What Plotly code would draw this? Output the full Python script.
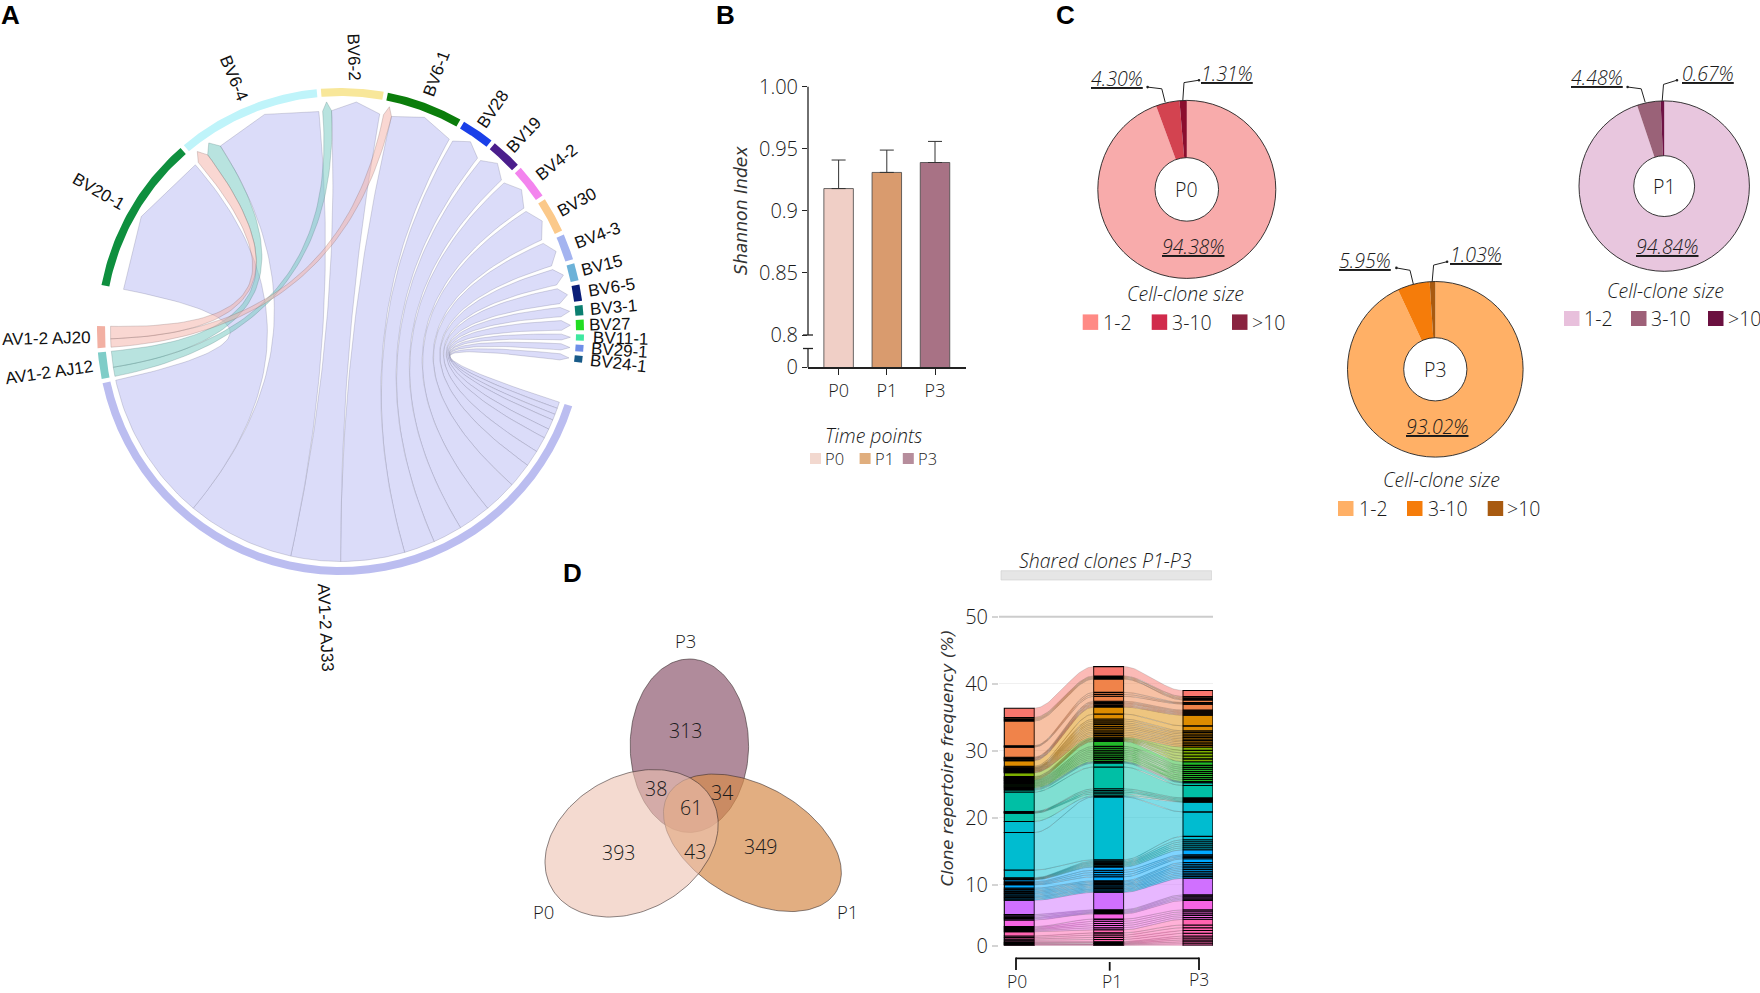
import numpy as np
import plotly.graph_objects as go

W, H = 1760, 993
LIGHT = "Open Sans"
ARIAL = "Liberation Sans"
DEJA = "DejaVu Sans"
TXT = "#1a1a1a"

# ---------- A: chord diagram values (clockwise order) ----------
AV_NAMES = ["AV1-2 AJ33", "AV1-2 AJ12", "AV1-2 AJ20"]
AV_TRACK = ["#BBBDF0", "#7FCDC8", "#F2B0A3"]
AV_RIBBON = ["#DBDCF9", "rgba(126,204,197,0.55)", "rgba(243,175,165,0.50)"]
BV_NAMES = ["BV20-1", "BV6-4", "BV6-2", "BV6-1", "BV28", "BV19", "BV4-2", "BV30", "BV4-3",
            "BV15", "BV6-5", "BV3-1", "BV27", "BV11-1", "BV29-1", "BV24-1"]
BV_TRACK = ["#0E8F3E", "#BFF4FA", "#F8E79A", "#0B7D0B", "#1A3FE8", "#4B1E8C", "#F384EE", "#FBC98A",
            "#A4B4F0", "#6CB2D8", "#0A1E78", "#0B7F70", "#22DD22", "#3FE8A0", "#6F8FE8", "#185A88"]
AJ33_TO_BV = [37.8, 27.2, 12.5, 16.1, 7.8, 7.4, 8.3, 8.4, 6.2, 4.1, 3.9, 2.4, 2.5, 1.5, 1.6, 1.6]
AJ12_LINKS = {"BV6-2": 2.3, "BV6-4": 4.0}
AJ20_LINKS = {"BV6-1": 2.1, "BV6-4": 3.1}
GAP_SMALL, GAP_AFTER_AV, GAP_AFTER_BV = 1.0, 9.7, 10.5
START_ANGLE = -17.9

# ---------- B: Shannon index ----------
TIMES = ["P0", "P1", "P3"]
SHANNON = [0.918, 0.931, 0.939]
SHANNON_ERR = [0.023, 0.018, 0.017]
BAR_COLORS = ["#F0CFC6", "#D99B6E", "#A87285"]
LEG_COLORS = ["#F2D8CF", "#E0AE7E", "#B68D9C"]

# ---------- C: clone size pies ----------
SIZE_LABELS = ["1-2", "3-10", ">10"]
PIE_P0 = [94.38, 4.30, 1.31]
PIE_P1 = [94.84, 4.48, 0.67]
PIE_P3 = [93.02, 5.95, 1.03]
PIE_P0_COL = ["#F8ABAB", "#D34350", "#8B0E2E"]
PIE_P1_COL = ["#E8C6DE", "#9A6278", "#6E1245"]
PIE_P3_COL = ["#FFB066", "#F57C0A", "#A85A10"]
SW_P0_COL = ["#FF8A85", "#D12B4C", "#8A2340"]
SW_P1_COL = ["#E8C0DC", "#9E6078", "#6B1040"]
SW_P3_COL = ["#FFB066", "#F57C0A", "#A85A10"]

# ---------- D: Venn counts ----------
VENN_COUNTS = ["313", "38", "34", "61", "393", "43", "349"]

# ---------- D: alluvial clone frequencies, top to bottom ----------
GROUP_SIZES = [1, 12, 12, 5, 9, 8, 8, 14, 5, 6, 10]
GROUP_COLORS = ["#F8766D", "#F0834A", "#DE8C00", "#7CAE00", "#22B82A", "#00BFA5", "#00BCD0",
                "#00A9FF", "#D070FF", "#F564E3", "#FF64B0"]
P0_FREQ = [1.40,
           .18, .16, .17, 3.70, .10, .11, 1.50, .10, .09, .11, .10, .10,
           .85, .15, .08, .09, .07, .08, .08, .09, .07, .08, .08, .08,
           .60, .12, .13, .11, .12,
           .10, .14, .15, .13, .14, .15, .13, .14, .14,
           .15, .15, .30, 2.90, .08, .08, .08, 1.25,
           1.65, 5.60, 1.15, .06, .06, .06, .06, .06,
           .30, .15, .16, .14, .50, .20, .21, .19, .20, .20, .21, .19, .20, .20,
           2.15, .20, .21, .19, .20,
           1.00, .15, .16, .14, .15, .15,
           .65, .21, .22, .20, .21, .12, .13, .11, .12, .12]
P1_FREQ = [1.40,
           .15, .15, .14, 2.00, .30, .28, .75, .18, .16, .17, .18, .16,
           1.05, .75, .27, .30, .25, .28, .26, .27, .29, .25, .27, .26,
           .15, .12, .11, .13, .12,
           .75, .28, .30, .26, .27, .29, .28, .27, .29,
           .12, .12, .60, 3.25, .25, .24, .26, .30,
           .15, 9.40, .20, .17, .16, .18, .17, .17,
           .50, .33, .34, .32, .60, .19, .20, .18, .19, .19, .20, .18, .19, .19,
           2.60, .15, .16, .14, .15,
           .80, .32, .33, .31, .32, .32,
           .45, .33, .34, .32, .33, .12, .13, .11, .12, .12]
P3_FREQ = [0.90,
           .18, .17, .16, .40, .10, .12, .90, .15, .16, .14, .15, .15,
           1.60, .75, .24, .22, .26, .25, .23, .24, .22, .26, .24, .25,
           .50, .40, .44, .42, .43,
           .55, .30, .28, .32, .29, .31, .30, .29, .31,
           .10, .10, .40, 1.85, .18, .19, .17, .10,
           1.45, 3.65, .50, .30, .31, .29, .30, .30,
           .75, .20, .21, .19, .55, .26, .27, .25, .26, .26, .27, .25, .26, .26,
           2.50, .21, .22, .20, .21,
           1.40, .28, .29, .27, .28, .28,
           .85, .41, .42, .40, .41, .29, .30, .28, .29, .29]
STACK_START = 0.9
ALLUVIAL_TICKS = [0.9, 10, 20, 30, 40, 50]
ALLUVIAL_TICKTEXT = ["0", "10", "20", "30", "40", "50"]

fig = go.Figure()
shapes, annos = [], []


def txt(x, y, s, size=19.5, family=LIGHT, style="normal", weight=300, angle=0, color=TXT,
        xanchor="center", under=False):
    font = dict(family=family, size=size, style=style, weight=weight, color=color)
    if under:
        font["lineposition"] = "under"
    annos.append(dict(x=x, y=y, xref="x", yref="y", text=s, showarrow=False, font=font,
                      textangle=angle, xanchor=xanchor, yanchor="middle", borderpad=0))


def line(x0, y0, x1, y1, color="#222", width=1.2):
    shapes.append(dict(type="line", x0=x0, y0=y0, x1=x1, y1=y1, xref="x", yref="y",
                       line=dict(color=color, width=width)))


def rect(x0, y0, x1, y1, fill, lc=None):
    shapes.append(dict(type="rect", x0=x0, y0=y0, x1=x1, y1=y1, xref="x", yref="y", fillcolor=fill,
                       line=dict(color=lc or fill, width=0.6 if lc else 0)))


def poly(xs, ys, fill, lc="rgba(0,0,0,0)", lw=0.0, xa="x", ya="y"):
    fig.add_trace(go.Scatter(x=xs, y=ys, mode="lines", fill="toself", fillcolor=fill,
                             line=dict(color=lc, width=lw), hoverinfo="skip", showlegend=False,
                             xaxis=xa, yaxis=ya))


# ---------- panel A ----------
CX, CY = 340.5, 331.5
R_TRACK_OUT, R_TRACK_IN, R_AV, R_BASE, R_TIP = 243.5, 235.5, 230.0, 221.0, 230.0


def pol(r, deg):
    a = np.radians(deg)
    return CX + r * np.cos(a), CY - r * np.sin(a)


bv_links = {n: [] for n in BV_NAMES}  # clockwise inside each BV sector
for n, v in AJ20_LINKS.items():
    bv_links[n].append(("AV1-2 AJ20", v))
for n, v in AJ12_LINKS.items():
    bv_links[n].append(("AV1-2 AJ12", v))
for n, v in zip(BV_NAMES, AJ33_TO_BV):
    bv_links[n].append(("AV1-2 AJ33", v))

av_links = {
    "AV1-2 AJ33": [(n, v) for n, v in zip(BV_NAMES[::-1], AJ33_TO_BV[::-1])],
    "AV1-2 AJ12": list(AJ12_LINKS.items()),
    "AV1-2 AJ20": list(AJ20_LINKS.items()),
}
totals = {n: sum(v for _, v in av_links[n]) for n in AV_NAMES}
totals.update({n: sum(v for _, v in bv_links[n]) for n in BV_NAMES})
gaps = [GAP_SMALL, GAP_SMALL, GAP_AFTER_AV] + [GAP_SMALL] * 15 + [GAP_AFTER_BV]
order = AV_NAMES + BV_NAMES
k = (360 - sum(gaps)) / sum(totals[n] for n in order)
sector = {}
a = START_ANGLE
for n, g in zip(order, gaps):
    sector[n] = (a, a - totals[n] * k)
    a = sector[n][1] - g

av_pos, bv_pos = {}, {}
for n in AV_NAMES:
    a = sector[n][0]
    for other, v in av_links[n]:
        av_pos[(n, other)] = (a, a - v * k)
        a -= v * k
for n in BV_NAMES:
    a = sector[n][0]
    for other, v in bv_links[n]:
        bv_pos[(other, n)] = (a, a - v * k)
        a -= v * k


def bez(p0, p1):
    t = np.linspace(0, 1, 60)
    x = (1 - t) ** 2 * p0[0] + 2 * t * (1 - t) * CX + t ** 2 * p1[0]
    y = (1 - t) ** 2 * p0[1] + 2 * t * (1 - t) * CY + t ** 2 * p1[1]
    return x, y


for n, fillc, lc in zip(AV_NAMES, AV_RIBBON,
                        ["rgba(90,90,120,0.45)", "rgba(70,110,110,0.5)", "rgba(120,90,90,0.5)"]):
    for other, _ in av_links[n]:
        a_s, a_e = av_pos[(n, other)]
        b_s, b_e = bv_pos[(n, other)]
        arc = np.linspace(a_s, a_e, 30)
        ax, ay = pol(R_AV, arc)
        e1x, e1y = bez(pol(R_AV, a_e), pol(R_BASE, b_s))
        tipx, tipy = pol(R_TIP, (b_s + b_e) / 2)
        e2x, e2y = bez(pol(R_BASE, b_e), pol(R_AV, a_s))
        xs = np.concatenate([ax, e1x, [tipx], e2x])
        ys = np.concatenate([ay, e1y, [tipy], e2y])
        poly(xs, ys, fillc, lc, 0.5)

for n, col in list(zip(AV_NAMES, AV_TRACK)) + list(zip(BV_NAMES, BV_TRACK)):
    s, e = sector[n]
    arc = np.linspace(s, e, 40)
    ox, oy = pol(R_TRACK_OUT, arc)
    ix, iy = pol(R_TRACK_IN, arc[::-1])
    poly(np.concatenate([ox, ix]), np.concatenate([oy, iy]), col)

for n in order:
    s, e = sector[n]
    mid = (s + e) / 2
    m = ((mid + 180) % 360) - 180  # -180..180
    length = len(n) * 10.2 if not n.startswith("AV") else 90
    x, y = pol(249 + length / 2 + (3 if n == "AV1-2 AJ33" else 0), mid)
    if n == "AV1-2 AJ33":
        ang = 87
    elif n == "BV6-2":
        ang = 88
    elif -90 < m <= 80:
        ang = -m
    else:
        ang = 180 - m if m > 0 else -180 - m
    txt(x, y, n, size=17, family=ARIAL, weight=400, angle=ang, color="#111")

# ---------- panel B ----------
B_LEFT, B_RIGHT, B_TOP, B_BOTTOM = 808.0, 966.0, 86.8, 367.4
ZERO_POS = 0.7739
fig.add_trace(go.Bar(x=TIMES, y=SHANNON, width=0.612, marker=dict(color=BAR_COLORS, line=dict(color="#444", width=0.8)),
                     error_y=dict(type="data", array=SHANNON_ERR, arrayminus=[0, 0, 0], symmetric=False,
                                  color="#333", thickness=1, width=7),
                     hoverinfo="skip", showlegend=False, xaxis="x2", yaxis="y2"))
line(B_LEFT, B_TOP, B_LEFT, 335, "#222", 1.3)
line(B_LEFT, 348.5, B_LEFT, B_BOTTOM, "#222", 1.3)
line(803, 335, 813, 335, "#222", 1.3)
line(803, 348.5, 813, 348.5, "#222", 1.3)
txt(741, 211, "Shannon Index", size=17.2, family=DEJA, style="italic", weight=400, angle=-90, color="#333")
txt(873.8, 435, "Time points", style="italic")
for (x0, lx), c, t in zip([(810, 834.5), (859.6, 884), (902.8, 927)], LEG_COLORS, TIMES):
    rect(x0, 453, x0 + 11, 464, c)
    txt(lx, 458.7, t, size=16.5)

# ---------- panel C ----------
PIES = [
    dict(vals=PIE_P0, col=PIE_P0_COL, sw=SW_P0_COL, name="P0", c=(1186.8, 189.4), r=89.0, hole=.357,
         main=(1193.6, 246.2), lab1=(1116.5, 78.5), lab2=(1227.4, 73),
         l1=[(1147.6, 87.1), (1161.8, 88.8), (1165.2, 102.3)], l2=[(1199, 80.2), (1184, 82.6), (1182.8, 100.5)],
         title=(1185.5, 293.7), swx=[1082.7, 1151.7, 1232], swy=(314.4, 329.9), labx=[1117.9, 1192.2, 1268]),
    dict(vals=PIE_P1, col=PIE_P1_COL, sw=SW_P1_COL, name="P1", c=(1664.2, 186.1), r=85.2, hole=.357,
         main=(1667.5, 246.2), lab1=(1596.6, 77.8), lab2=(1707.5, 73),
         l1=[(1627.6, 87), (1641.2, 88.8), (1645.2, 102.3)], l2=[(1677, 80.2), (1663.5, 84.4), (1662.2, 100.9)],
         title=(1665.5, 290.3), swx=[1564, 1631, 1708], swy=(311, 326), labx=[1598.6, 1671, 1744]),
    dict(vals=PIE_P3, col=PIE_P3_COL, sw=SW_P3_COL, name="P3", c=(1435.3, 369.3), r=87.8, hole=.36,
         main=(1437, 426.3), lab1=(1365.3, 260), lab2=(1476.2, 254.1),
         l1=[(1396.4, 267.9), (1410, 270.3), (1413.3, 284)], l2=[(1447.1, 261.7), (1433.6, 265.1), (1432.2, 281.3)],
         title=(1441, 479.7), swx=[1338, 1407, 1487.7], swy=(501, 516), labx=[1373.4, 1448, 1523.5]),
]
for p in PIES:
    cx, cy, r = p["c"][0], p["c"][1], p["r"]
    fig.add_trace(go.Pie(values=p["vals"], labels=SIZE_LABELS, hole=p["hole"], sort=False, direction="clockwise",
                         rotation=0, textinfo="none", hoverinfo="skip", showlegend=False,
                         marker=dict(colors=p["col"], line=dict(width=0)),
                         domain=dict(x=[(cx - r) / W, (cx + r) / W], y=[1 - (cy + r) / H, 1 - (cy - r) / H])))
    for rr in (r, r * p["hole"]):
        shapes.append(dict(type="circle", x0=cx - rr, x1=cx + rr, y0=cy - rr, y1=cy + rr, xref="x", yref="y",
                           line=dict(color="#222", width=0.9), layer="above"))
    txt(cx, cy, p["name"])
    vals = p["vals"]
    txt(p["main"][0], p["main"][1], f"{vals[0]:.2f}%", style="italic", under=True)
    txt(p["lab1"][0], p["lab1"][1], f"{vals[1]:.2f}%", style="italic", under=True)
    txt(p["lab2"][0], p["lab2"][1], f"{vals[2]:.2f}%", style="italic", under=True)
    for L in (p["l1"], p["l2"]):
        for a0, a1 in zip(L[:-1], L[1:]):
            line(a0[0], a0[1], a1[0], a1[1], "#222", 1)
        shapes.append(dict(type="circle", x0=L[0][0] - 1.3, x1=L[0][0] + 1.3, y0=L[0][1] - 1.3, y1=L[0][1] + 1.3,
                           xref="x", yref="y", fillcolor="#222", line=dict(width=0)))
    txt(p["title"][0], p["title"][1], "Cell-clone size", style="italic")
    for x0, lx, c, t in zip(p["swx"], p["labx"], p["sw"], SIZE_LABELS):
        rect(x0, p["swy"][0], x0 + 15.5, p["swy"][1], c)
        txt(lx, (p["swy"][0] + p["swy"][1]) / 2, t)

# ---------- panel D: Venn (bottom to top: P3, P1, P0) ----------
ELLIPSES = [
    dict(c=(689.4, 745.7), a=86.7, b=59.2, phi=90.0, fill="#B08B9B"),
    dict(c=(752.4, 842.8), a=97.0, b=56.8, phi=-29.5, fill="rgba(214,139,76,0.70)"),
    dict(c=(631.6, 843.3), a=91.7, b=67.3, phi=29.0, fill="rgba(237,193,177,0.60)"),
]
for e in ELLIPSES:
    t = np.linspace(0, 2 * np.pi, 160)
    ph = np.radians(e["phi"])
    ex = e["a"] * np.cos(t) * np.cos(ph) - e["b"] * np.sin(t) * np.sin(ph)
    ey = e["a"] * np.cos(t) * np.sin(ph) + e["b"] * np.sin(t) * np.cos(ph)
    poly(e["c"][0] + ex, e["c"][1] - ey, e["fill"], "rgba(50,40,40,0.7)", 0.8)
for (x, y), s in zip([(685.7, 730.3), (656, 788), (722, 792), (691.3, 807), (618.3, 852.7), (695, 851.3), (760, 846.7)],
                     VENN_COUNTS):
    txt(x, y, s)
for (x, y), s in zip([(685.3, 640.7), (543, 911), (847, 911.7)], ["P3", "P0", "P1"]):
    txt(x, y, s, size=18.5)

# ---------- panel D: alluvial ----------
assert len(P0_FREQ) == len(P1_FREQ) == len(P3_FREQ) == sum(GROUP_SIZES)
clone_col = [c for c, n in zip(GROUP_COLORS, GROUP_SIZES) for _ in range(n)]
freq = np.array([P0_FREQ[::-1], P1_FREQ[::-1], P3_FREQ[::-1]])  # bottom to top
clone_col = clone_col[::-1]
base = STACK_START + np.vstack([np.zeros(3), np.cumsum(freq.T, axis=0)])  # (n+1, 3)
BW = 0.336


def hex_rgba(h, alpha):
    return f"rgba({int(h[1:3],16)},{int(h[3:5],16)},{int(h[5:7],16)},{alpha})"


t = np.linspace(0, 1, 36)
s = t * t * (3 - 2 * t)
for i, col in enumerate(clone_col):
    for g in (0, 1):
        x = g + BW / 2 + (1 - BW) * t
        lo = base[i, g] + (base[i, g + 1] - base[i, g]) * s
        hi = base[i + 1, g] + (base[i + 1, g + 1] - base[i + 1, g]) * s
        poly(np.concatenate([x, x[::-1]]), np.concatenate([lo, hi[::-1]]), hex_rgba(col, 0.5),
             "rgba(40,40,40,0.30)", 0.5, "x3", "y3")
for i, col in enumerate(clone_col):
    fig.add_trace(go.Bar(x=[0, 1, 2], y=freq.T[i], base=base[i], width=BW,
                         marker=dict(color=col, line=dict(color="#000", width=1.1)),
                         hoverinfo="skip", showlegend=False, xaxis="x3", yaxis="y3"))

A_LEFT, A_RIGHT, A_TOP, A_BOTTOM = 999.0, 1213.0, 610.0, 945.7
UNIT_PX = 6.7
PITCH = 89.3
C0 = 1019.3
line(999, 616.7, 1213, 616.7, "#CCCCCC", 2)
rect(1001, 570.7, 1211.5, 580, "#E6E6E6", "#CFCFCF")
txt(1105.4, 560, "Shared clones P1-P3", style="italic")
txt(947, 758.3, "Clone repertoire frequency (%)", size=16.5, family=DEJA, style="italic", weight=400,
    angle=-90, color="#333")
line(1016, 958.3, 1199, 958.3, "#111", 1.8)
line(1016, 957.5, 1016, 970, "#111", 1.8)
line(1199, 957.5, 1199, 970, "#111", 1.8)
line(1109.7, 962, 1109.7, 970.7, "#111", 1.8)
for x, y, s_ in zip([1017.3, 1111.7, 1199], [981, 981, 979], TIMES):
    txt(x, y, s_, size=17.5)

# ---------- panel letters ----------
for x, y, s_ in zip([10, 725.7, 1065.8, 572], [15, 14.5, 14.5, 572.7], ["A", "B", "C", "D"]):
    txt(x, y, s_, size=26, family=ARIAL, weight=700, color="#000")

fig.update_layout(
    width=W, height=H, autosize=False, margin=dict(l=0, r=0, t=0, b=0, pad=0, autoexpand=False),
    paper_bgcolor="white", plot_bgcolor="rgba(0,0,0,0)", barmode="overlay", showlegend=False,
    shapes=shapes, annotations=annos, hovermode=False,
    xaxis=dict(domain=[0, 1], range=[0, W], visible=False, fixedrange=True),
    yaxis=dict(domain=[0, 1], range=[H, 0], visible=False, fixedrange=True),
    xaxis2=dict(domain=[B_LEFT / W, B_RIGHT / W], anchor="y2", type="category", range=[-0.635, 2.643],
                showline=True, linecolor="#222", linewidth=1.5, ticks="outside", ticklen=6, tickcolor="#222",
                tickwidth=1, tickfont=dict(family=LIGHT, size=18, weight=300, color=TXT), showgrid=False,
                fixedrange=True),
    yaxis2=dict(domain=[1 - B_BOTTOM / H, 1 - B_TOP / H], anchor="x2", range=[ZERO_POS, 1.0], showline=False,
                tickmode="array", tickvals=[1.0, 0.95, 0.9, 0.85, 0.8, ZERO_POS],
                ticktext=["1.00", "0.95", "0.9", "0.85", "0.8", "0"], ticks="outside", ticklen=5,
                tickcolor="#222", tickwidth=1, showgrid=False, zeroline=False,
                tickfont=dict(family=LIGHT, size=20, weight=300, color=TXT), fixedrange=True),
    xaxis3=dict(domain=[A_LEFT / W, A_RIGHT / W], anchor="y3",
                range=[(A_LEFT - C0) / PITCH, (A_RIGHT - C0) / PITCH], visible=False, fixedrange=True),
    yaxis3=dict(domain=[1 - A_BOTTOM / H, 1 - A_TOP / H], anchor="x3",
                range=[STACK_START, STACK_START + (A_BOTTOM - A_TOP) / UNIT_PX], showline=False,
                tickmode="array", tickvals=ALLUVIAL_TICKS, ticktext=ALLUVIAL_TICKTEXT, ticks="outside", ticklen=6,
                tickcolor="#D4D4D4", tickwidth=2, showgrid=True, gridcolor="#F0F0F0", gridwidth=1, zeroline=False,
                tickfont=dict(family=LIGHT, size=20, weight=300, color=TXT), fixedrange=True),
)
fig.write_html("out.html", config=dict(displayModeBar=False),
               post_script="document.body.style.margin='0';document.body.style.overflow='hidden';")
